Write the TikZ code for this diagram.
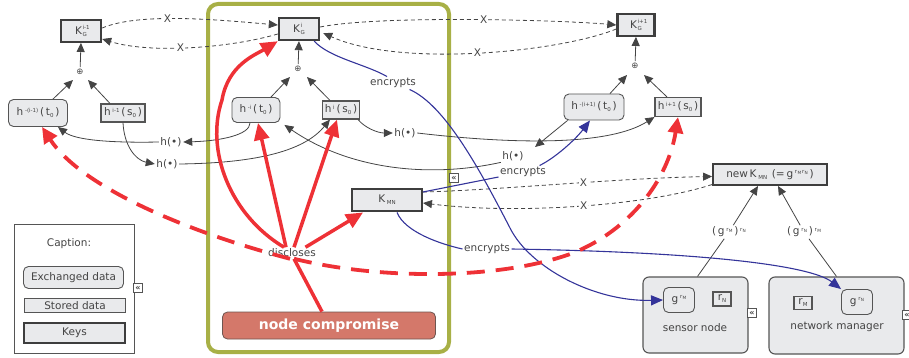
\documentclass[tikz,border=0pt]{standalone}
\usepackage{fontspec}
\setmainfont{DejaVu Sans}
\usetikzlibrary{arrows.meta,calc}
\definecolor{txt}{HTML}{444444}
\definecolor{nfill}{HTML}{E9EAEC}
\definecolor{bord}{HTML}{555555}
\definecolor{kbord}{HTML}{3E3E3E}
\definecolor{gline}{HTML}{444444}
\definecolor{gboxc}{HTML}{A8B046}
\definecolor{bl}{HTML}{34349A}
\definecolor{rd}{HTML}{EE3136}
\definecolor{ncfill}{HTML}{D4786A}
\definecolor{ncbord}{HTML}{6E5550}
\newlength\mysswd
\newcommand{\mysp}[1]{\raisebox{0.6ex}{\fontsize{5.5}{6}\selectfont #1}}
\newcommand{\mysb}[1]{\raisebox{-0.35ex}{\fontsize{5.5}{6}\selectfont #1}}
\newcommand{\myss}[2]{{\fontsize{5.5}{6}\selectfont\setbox0\hbox{#1}\setbox2\hbox{#2}\mysswd=\wd0 \ifdim\wd2>\mysswd \mysswd=\wd2 \fi\kern0.6pt\hskip\mysswd\llap{\hbox to\mysswd{\raisebox{4.8pt}{\box0}\hss}}\llap{\hbox to\mysswd{\raisebox{-2.6pt}{\box2}\hss}}}}
\newcommand{\rsb}[1]{r\kern0.3pt\raisebox{-0.25ex}{\fontsize{4.3}{5}\selectfont #1}}
\begin{document}
\begin{tikzpicture}[x=1pt,y=-1pt,
  every node/.style={text=txt, font=\fontsize{10.5}{12}\selectfont},
  key/.style={draw=kbord, line width=2.4pt, fill=nfill, inner sep=0pt},
  stor/.style={draw=bord, line width=1.1pt, fill=nfill, inner sep=0pt},
  exch/.style={draw=bord, line width=0.9pt, fill=nfill, rounded corners=5pt, inner sep=0pt},
  lbl/.style={inner sep=1.5pt},
  opl/.style={inner sep=2pt, font=\fontsize{8.5}{9}\selectfont},
  garr/.style={draw=gline, line width=0.8pt, -{Triangle[length=9pt,width=8pt]}},
  gln/.style={draw=gline, line width=0.8pt},
  gdash/.style={draw=gline, line width=0.8pt, dash pattern=on 4pt off 3pt, -{Triangle[length=9pt,width=8pt]}},
  barr/.style={draw=bl, line width=1.1pt, -{Triangle[length=12pt,width=10pt]}},
  bln/.style={draw=bl, line width=1.1pt},
  rarr/.style={draw=rd, line width=3.5pt, -{Triangle[length=17pt,width=15pt]}},
  rln/.style={draw=rd, line width=3.5pt},
  rdash/.style={draw=rd, line width=3.8pt, dash pattern=on 18pt off 11pt, -{Triangle[length=16pt,width=15pt]}},
  xm/.style={fill=white, inner sep=1pt, font=\fontsize{10.5}{11}\selectfont},
  icon/.style={draw=bord, fill=white, line width=0.6pt, minimum size=9pt, inner sep=0pt, font=\fontsize{8}{8}\selectfont\bfseries},
  big/.style={draw=bord, fill=nfill, line width=1.1pt, rounded corners=6pt, inner sep=0pt}
]
\useasboundingbox (0,0) rectangle (909,358);

% group box
\node[draw=gboxc, line width=4pt, rounded corners=10pt, minimum width=241pt, minimum height=348pt, inner sep=0pt] (grp) at (328.5,178) {};

% keys
\node[key, minimum width=40pt, minimum height=21.5pt] (KGa) at (81,31) {K\myss{i-1}{G}};
\node[key, minimum width=40pt, minimum height=22pt] (KGb) at (299,29) {K\myss{i}{G}};
\node[key, minimum width=37pt, minimum height=21.5pt] (KGc) at (636,25) {K\myss{i+1}{G}};
\node[opl] (oa) at (80,72) {⊕};
\node[opl] (ob) at (298,69) {⊕};
\node[opl] (oc) at (635,66) {⊕};

% h nodes
\node[exch, minimum width=59pt, minimum height=27pt] (hta) at (38,113) {h\,\mysp{-(i-1)}\,(\,t\mysb{0}\,)};
\node[stor, minimum width=44pt, minimum height=18pt] (hsa) at (123,113) {h\,\mysp{i-1}\,(\,s\mysb{0}\,)};
\node[exch, minimum width=48pt, minimum height=25pt] (htb) at (256,110) {h\,\mysp{-i}\,(\,t\mysb{0}\,)};
\node[stor, minimum width=37pt, minimum height=18pt] (hsb) at (341,110) {h\,\mysp{i}\,(\,s\mysb{0}\,)};
\node[exch, minimum width=60pt, minimum height=26pt] (htc) at (594,107) {h\,\mysp{-(i+1)}\,(\,t\mysb{0}\,)};
\node[stor, minimum width=46pt, minimum height=19pt] (hsc) at (678,107) {h\,\mysp{i+1}\,(\,s\mysb{0}\,)};

\node[key, minimum width=113.5pt, minimum height=20.5pt] (nK) at (770,174.5) {new\,K\,\mysb{MN}\;\,(=\,g\,\mysp{\rsb{M}\,\rsb{N}}\,)};
\node[key, minimum width=69.5pt, minimum height=22.5pt] (KMN) at (387,200) {K\,\mysb{MN}};

% labels
\node[lbl] (ha) at (171,142) {h(\textbullet)};
\node[lbl] (hb) at (167,164) {h(\textbullet)};
\node[lbl] (hc) at (405,133) {h(\textbullet)};
\node[lbl] (hd) at (513,156) {h(\textbullet)};
\node[lbl] (ea) at (393,83) {encrypts};
\node[lbl] (eb) at (523,172) {encrypts};
\node[lbl] (ec) at (487,249) {encrypts};
\node[lbl] (disc) at (292,253) {discloses};

\node[draw=ncbord, line width=0.8pt, fill=ncfill, rounded corners=5pt, minimum width=213pt, minimum height=27pt, inner sep=0pt, text=white, font=\bfseries\fontsize{14}{15}\selectfont] (nc) at (329,325.5) {node compromise};

% caption
\node[draw=bord, line width=0.9pt, fill=white, minimum width=120pt, minimum height=129pt, inner sep=0pt] (cap) at (74,288.5) {};
\node (capt) at (69,244) {Caption:};
\node[exch, minimum width=100pt, minimum height=22pt] (cex) at (73.5,277.5) {Exchanged data};
\node[stor, minimum width=101pt, minimum height=14pt] (cst) at (75,305.5) {Stored data};
\node[key, minimum width=100.5pt, minimum height=19.5pt] (cky) at (74.5,333) {Keys};

% sensor node / network manager
\node[big, minimum width=105pt, minimum height=76pt] (sn) at (695.5,315) {};
\node (snl) at (695,328) {sensor node};
\node[exch, minimum width=31pt, minimum height=25pt] (gM) at (679,300) {g\,\mysp{\rsb{M}}};
\node[stor, minimum width=18pt, minimum height=14pt] (rN) at (722,299) {r\mysb{N}};
\node[big, minimum width=135pt, minimum height=77pt] (nm) at (836.5,315.5) {};
\node (nml) at (837,327) {network manager};
\node[stor, minimum width=18pt, minimum height=13pt] (rM) at (803,303) {r\mysb{M}};
\node[exch, minimum width=31pt, minimum height=25pt] (gN) at (857,302) {g\,\mysp{\rsb{N}}};
\node[lbl] (lab1) at (729,232) {(\,g\,\mysp{\rsb{M}}\,)\,\mysp{\rsb{N}}};
\node[lbl] (lab2) at (804,232) {(\,g\,\mysp{\rsb{N}}\,)\,\mysp{\rsb{M}}};

% dashed key links
\draw[gdash] ([yshift=3pt]KGa.east) .. controls (140,12) and (220,20) .. ([yshift=4pt]KGb.west) node[xm,pos=0.42]{X};
\draw[gdash] ([yshift=-5pt]KGb.west) .. controls (230,48) and (150,54) .. ([yshift=-8pt]KGa.east) node[xm,pos=0.55]{X};
\draw[gdash] ([yshift=2pt]KGb.east) .. controls (380,15) and (560,20) .. (KGc.west) node[xm,pos=0.54]{X};
\draw[gdash] ([yshift=-4pt]KGc.west) .. controls (560,52) and (400,68) .. ([xshift=3pt,yshift=-4pt]KGb.east) node[xm,pos=0.5]{X};
\draw[gdash] ([yshift=8pt]KMN.east) .. controls (500,190) and (620,178) .. ([yshift=-2pt]nK.west) node[xm,pos=0.57]{X};
\draw[gdash] ([yshift=-10pt]nK.west) .. controls (650,205) and (520,215) .. ([yshift=-3pt]KMN.east) node[xm,pos=0.49]{X};

% xor arrows
\draw[garr] (oa) -- (KGa.south);
\draw[garr] (ob) -- (KGb.south);
\draw[garr] (oc) -- (KGc.south);
\draw[garr] ($(hta.north)+(15,0)$) -- ($(oa)+(-7,8)$);
\draw[garr] ($(hsa.north)+(-13,0)$) -- ($(oa)+(8,8)$);
\draw[garr] ($(htb.north)+(15,0)$) -- ($(ob)+(-8,8)$);
\draw[garr] ($(hsb.north)+(-11,0)$) -- ($(ob)+(9,8)$);
\draw[garr] ($(htc.north)+(16,0)$) -- ($(oc)+(-8,9)$);
\draw[garr] ($(hsc.north)+(-11,0)$) -- ($(oc)+(9,9)$);

% hash chains
\draw[garr] ($(htb.south)+(-6,0)$) .. controls (250,135) and (220,141) .. (ha.east);
\draw[garr] (ha.west) .. controls (110,143) and (75,140) .. ($(hta.south east)+(-10,0)$);
\draw[garr] (hsa.south) .. controls (124,145) and (135,160) .. (hb.west);
\draw[garr] (hb.east) .. controls (260,163) and (305,150) .. ($(hsb.south west)+(8,0)$);
\draw[garr] ($(hsb.south east)+(-2,0)$) .. controls (365,128) and (378,133) .. (hc.west);
\draw[garr] (hc.east) .. controls (520,145) and (610,145) .. (hsc.south west);
\draw[garr] ($(htc.south west)+(4,0)$) -- ($(hd)+(22,-9)$);
\draw[garr] (hd.south west) .. controls (430,178) and (350,170) .. ($(htb.south east)+(4,2)$);

% labels to new key
\draw[gln] ([xshift=2pt]sn.north) -- (lab1);
\draw[garr] (lab1) -- ([xshift=-12pt]nK.south);
\draw[gln] (nm.north) -- (lab2);
\draw[garr] (lab2) -- ([xshift=8pt]nK.south);

% encrypts (blue)
\draw[bln] ($(KGb.south east)+(-6,0)$) .. controls (330,58) and (365,64) .. ($(ea.north)+(-6,0)$);
\draw[barr] ($(ea.south east)+(-8,0)$) .. controls (445,105) and (480,170) .. (510,228) .. controls (530,268) and (595,302) .. (gM.west);
\draw[bln] ($(KMN.east)+(0,-8)$) -- ($(eb.west)+(0,5)$);
\draw[barr] ($(eb.north east)+(-8,0)$) .. controls (555,158) and (575,140) .. ($(htc.south)+(-4,0)$);
\draw[bln] ($(KMN.south)+(10,0)$) .. controls (405,232) and (440,244) .. (ec.west);
\draw[barr] (ec.east) .. controls (700,252) and (810,265) .. (gN.north west);

% discloses (red)
\draw[rarr] ($(disc.north)+(-8,0)$) .. controls (230,215) and (205,150) .. (222,100) .. controls (228,65) and (255,55) .. (KGb.south west);
\draw[rarr] ($(disc.north)+(-6,0)$) -- ($(htb.south)+(2,0)$);
\draw[rarr] ($(disc.north)+(2,0)$) -- ($(hsb.south)+(-4,0)$);
\draw[rarr] ($(disc.north east)+(-12,0)$) -- ([xshift=12pt]KMN.south west);
\draw[rln] ($(nc.north)+(-7,0)$) -- ($(disc.south)+(2,0)$);
\draw[rdash] ($(disc.south)+(-2,0)$) .. controls (180,230) and (80,185) .. ($(hta.south)+(4,0)$);
\draw[rdash] ($(disc.south)+(2,0)$) .. controls (380,280) and (500,280) .. (573,253) .. controls (630,230) and (668,180) .. (hsc.south);

% icons
\node[icon] (i1) at (138,288) {«};
\node[icon] (i2) at (454,178) {«};
\node[icon] (i3) at (752,313) {«};
\node[icon] (i4) at (907,315) {«};
\end{tikzpicture}
\end{document}
